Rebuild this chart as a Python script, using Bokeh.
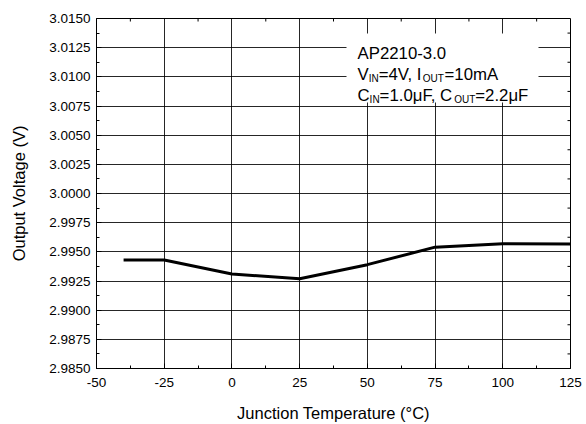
import math
from bokeh.plotting import figure
from bokeh.models import FixedTicker, PrintfTickFormatter, BoxAnnotation, Label, Range1d, Grid
from bokeh.embed import file_html
from bokeh.resources import INLINE

# ---- data ----
temperature = [-40, -25, 0, 25, 50, 75, 100, 125]
output_voltage = [2.9943, 2.9943, 2.9931, 2.9927, 2.9939, 2.9954, 2.9957, 2.99568]

x_ticks = [-50, -25, 0, 25, 50, 75, 100, 125]
x_minor = [-37.5, -12.5, 12.5, 37.5, 62.5, 87.5, 112.5]
y_ticks = [2.985, 2.9875, 2.99, 2.9925, 2.995, 2.9975, 3.0, 3.0025, 3.005,
           3.0075, 3.01, 3.0125, 3.015]
y_minor = [2.98625, 2.98875, 2.99125, 2.99375, 2.99625, 2.99875, 3.00125,
           3.00375, 3.00625, 3.00875, 3.01125, 3.01375]

title_line = "AP2210-3.0"
x_label = "Junction Temperature (°C)"
y_label = "Output Voltage (V)"

FONT = "Liberation Sans"
X0, X1 = -50, 125
Y0, Y1 = 2.985, 3.015
W, H = 586, 424
FW, FH = 474, 350
LEFT, TOP = 96, 18

p = figure(width=W, height=H, output_backend="svg", toolbar_location=None,
           x_range=Range1d(X0, X1), y_range=Range1d(Y0, Y1),
           min_border_left=LEFT, min_border_right=W - LEFT - FW, min_border_top=TOP,
           min_border_bottom=H - TOP - FH)
p.background_fill_color = "white"
p.outline_line_color = "black"
p.outline_line_width = 1
p.grid.visible = False

xt = FixedTicker(ticks=x_ticks, minor_ticks=x_minor)
yt = FixedTicker(ticks=y_ticks, minor_ticks=y_minor)

bx = p.xaxis[0]
ly = p.yaxis[0]
bx.ticker = xt
bx.formatter = PrintfTickFormatter(format="%d")
bx.axis_label = x_label
ly.ticker = yt
ly.formatter = PrintfTickFormatter(format="%.4f")
ly.axis_label = y_label

for ax in [bx, ly]:
    ax.axis_line_color = "black"
    ax.major_tick_line_color = "black"
    ax.minor_tick_line_color = "black"
    ax.major_tick_in = 5
    ax.major_tick_out = 0
    ax.minor_tick_in = 3
    ax.minor_tick_out = 0
    ax.major_label_text_font = FONT
    ax.major_label_text_font_size = "13.5px"
    ax.major_label_text_color = "black"
    ax.axis_label_text_font = FONT
    ax.axis_label_text_font_size = "16.5px"
    ax.axis_label_text_font_style = "normal"
    ax.axis_label_text_color = "black"

bx.major_label_standoff = 9
bx.axis_label_standoff = 14
ly.major_label_standoff = 6
ly.axis_label_standoff = 18

gx = Grid(dimension=0, ticker=xt, grid_line_color="black", grid_line_width=1, grid_line_alpha=0.85)
gy = Grid(dimension=1, ticker=yt, grid_line_color="black", grid_line_width=1, grid_line_alpha=0.85)
p.add_layout(gx, "center")
p.add_layout(gy, "center")

# inner minor ticks on the right and top frame edges (clipped to the frame)
p.scatter([X1] * len(y_minor), y_minor, marker="dash", size=6, line_color="black", line_width=1)
p.scatter(x_minor, [Y1] * len(x_minor), marker="dash", size=6, angle=math.pi / 2,
          line_color="black", line_width=1)

p.line(temperature, output_voltage, line_color="black", line_width=3)


# ---- annotation box (positions given in page pixels) ----
def px_x(px):
    return X0 + (px - LEFT) / FW * (X1 - X0)


def px_y(py):
    return Y1 - (py - TOP) / FH * (Y1 - Y0)


p.add_layout(BoxAnnotation(left=px_x(346), right=px_x(538), top=px_y(33), bottom=px_y(102),
                           fill_color="white", fill_alpha=1.0, line_color=None, level="overlay"))

MAIN = "16.8px"
SUB = "10px"
pieces = [
    (title_line, 357, 53, MAIN),
    ("V", 357, 74, MAIN), ("IN", 368.2, 78, SUB), ("=4V, I", 378.2, 74, MAIN),
    ("OUT", 422.3, 78, SUB), ("=10mA", 444, 74, MAIN),
    ("C", 357, 95, MAIN), ("IN", 369.1, 99, SUB), ("=1.0μF, C", 379.1, 95, MAIN),
    ("OUT", 453.7, 99, SUB), ("=2.2μF", 474.8, 95, MAIN),
]
for txt, px, py, size in pieces:
    p.add_layout(Label(x=px_x(px), y=px_y(py), text=txt, text_font=FONT,
                       text_font_size=size, text_color="black", text_align="left",
                       text_baseline="alphabetic", level="overlay"))

open("out.html", "w").write(file_html(p, INLINE))
